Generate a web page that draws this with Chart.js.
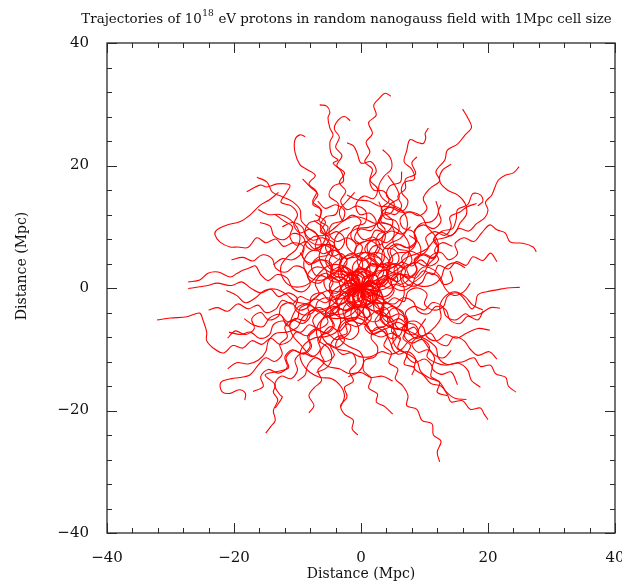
<!DOCTYPE html>
<html>
<head>
<meta charset="utf-8">
<title>Proton trajectories</title>
<script src="https://cdn.jsdelivr.net/npm/chart.js@4.4.0/dist/chart.umd.min.js"></script>
<style>
  html, body { margin: 0; padding: 0; background: #fff; }
  canvas { display: block; }
</style>
</head>
<body>
<canvas id="myChart" width="622" height="584"></canvas>
<script>
// Proton tracks in Mpc, [x, y] pairs, every one starts at the source in the origin
const track01 = [[0,0],[1.5,1],[1.2,2.8],[-0.5,3.2],[-1.6,2],[-2.8,3.2],[-2,4.8],[-0.4,5.2],[0.2,6.8],[-1,8],[-0.2,9.6],[1.6,9.4],[2.4,10.8],[1.4,12.2],[-0.2,12],[-0.8,13.6],[0.4,15],[2,14.6],[2.6,16.2],[1.4,17.6],[1.8,19.4],[0.6,20.6],[1.4,22.2],[0.8,23.8],[1.8,25.2],[1.2,27],[2.4,28.2],[2,29.8],[2.9,31],[3.8,31.8],[4.7,31.3]];
const track02 = [[0,0],[-1.6,-0.6],[-2.6,0.8],[-1.8,2.4],[-3,3.6],[-4.6,3],[-5.6,4.4],[-4.8,6],[-3.2,6.4],[-2.6,8],[-3.8,9.2],[-5.4,8.6],[-6.4,10],[-5.6,11.6],[-4,12],[-3.6,13.8],[-5,15],[-4.4,16.6],[-2.8,17.4],[-3.2,19.2],[-4.4,20.4],[-3.6,20.9],[-4.6,21.7],[-4.9,23.8],[-4.4,25],[-4.9,26.1],[-5.2,27.8],[-4.9,28.7],[-5.4,29.7],[-6.5,29.9]];
const track03 = [[0,0],[0.4,-1.7],[2,-2.2],[3,-0.8],[2.4,0.8],[3.6,2],[5.2,1.4],[5.8,3],[4.6,4.2],[3,3.8],[2,5.2],[2.6,6.8],[1.2,7.8],[-0.4,7.2],[-1.6,8.4],[-1,10],[0.6,10.6],[0.8,12.4],[-0.6,13.4],[-2.2,12.8],[-3.2,14.2],[-2.4,15.8],[-3.4,17.2],[-2.6,18.8],[-3.8,20],[-3,21.6],[-4,23],[-3.4,24.6],[-4.2,26],[-3.6,27.4],[-2.6,28],[-1.7,27.3]];
const track04 = [[0,0],[-1.7,0.4],[-2.2,-1.2],[-3.8,-1.8],[-5,-0.6],[-4.4,1],[-5.4,2.4],[-7,2],[-7.8,3.6],[-6.8,5],[-5.2,5.4],[-4.8,7],[-6,8.2],[-7.6,7.8],[-8.8,9],[-8.2,10.6],[-6.6,11.2],[-6.4,12.9],[-7.6,14.1],[-7,15.7],[-8.2,17],[-7.2,18.4],[-8.6,19.4],[-9.6,20.1],[-10.4,22.2],[-10.4,24.2],[-9.6,25],[-8.8,24.7]];
const track05 = [[0,0],[1.6,0.8],[3.2,0.2],[4.4,1.4],[4,3],[5.4,4],[6.8,3.2],[8,4.4],[7.4,6],[5.8,6.4],[5,8],[6,9.4],[5.4,11],[3.8,11.4],[3.2,13],[4.4,14.2],[3.6,15.8],[2,16],[1.4,17.6],[2.4,19],[1.6,20.6],[0,20.4],[-0.6,22],[-1.2,23.2],[-2.2,23.7]];
const track06 = [[0,0],[1.2,1.2],[0.6,2.8],[1.8,4],[3.4,3.4],[4.6,4.6],[4.2,6.2],[5.6,7.2],[7.2,6.6],[8.6,7.6],[8.2,9.2],[6.6,9.8],[6.2,11.4],[7.6,12.4],[9.2,11.8],[10.4,13],[9.8,14.6],[10.8,16.2],[12.4,17.5],[11.8,19],[13.2,20.9],[13.6,22.5],[15.2,23.5],[16.4,25],[17.4,26.2],[16.8,27.8],[16,29.2]];
const track07 = [[0,0],[-0.8,1.5],[0.4,2.8],[2,2.2],[3.4,3.2],[3,4.8],[1.4,5.4],[1,7],[2.4,8],[4,7.4],[5.2,8.6],[4.8,10.2],[3.2,10.8],[3.4,12.5],[5,13.2],[6.6,12.6],[7.4,14.2],[6.4,15.6],[6.8,17.2],[8.4,17.8],[8,19.4],[6.8,20.6],[7.2,22.4],[7.7,24.2],[8.8,23.8],[9.8,23.6],[10.2,24.5],[10.1,25.2],[10.6,26.1]];
const track08 = [[0,0],[1.7,0.2],[2.4,-1.4],[4,-1.8],[5.2,-0.6],[4.8,1],[6,2.2],[7.6,1.6],[8.8,2.8],[8.4,4.4],[9.8,5.4],[11.4,4.8],[12.2,6.4],[11.4,7.9],[12.6,9.1],[14.2,8.5],[15.4,9.7],[17,9.3],[18.2,10.5],[19.5,11.5],[20,12.7],[19.6,14],[20.6,15.2],[21.6,17.6],[22.7,18.4],[24,18.8],[24.9,19.8]];
const track09 = [[0,0],[1.2,-1.2],[2.8,-0.6],[3.2,1],[4.8,1.6],[6.2,0.6],[7.6,1.6],[7.2,3.2],[8.6,4.2],[10.2,3.6],[11,5.2],[12.6,5.8],[13.8,4.6],[15.2,5.6],[14.8,7.2],[16.2,8.2],[17.8,7.6],[19,9],[20.3,10.3],[21.4,9.5],[22.7,9],[23.5,7.5],[25.5,7.3],[27.1,6.7],[27.6,5.9]];
const track10 = [[0,0],[1.4,1],[2.8,0],[2.4,-1.6],[3.8,-2.6],[5.2,-1.6],[6.8,-2.2],[7.4,-0.6],[9,0],[10.4,-1],[10,-2.6],[11.4,-3.6],[13,-3],[13.6,-1.4],[15.2,-0.8],[16.4,-2],[17.4,-3.4],[18,-2.8],[18.4,-1.1],[19.8,-0.6],[21.4,-0.3],[23,0],[25,0.1]];
const track11 = [[0,0],[0.4,-1.7],[-1,-2.6],[-0.6,-4.2],[1,-4.8],[2.4,-3.8],[4,-4.4],[4.4,-6],[6,-6.6],[7.4,-5.6],[7,-4],[8.4,-3],[10,-3.6],[11.2,-2.4],[12.8,-3],[13.4,-4.6],[15,-5.2],[16.4,-4.2],[17.2,-4.6],[18.8,-4.2],[20.4,-3.2],[21.9,-3.3]];
const track12 = [[0,0],[-1.2,-1.2],[-0.6,-2.8],[1,-3.4],[1.6,-5],[0.6,-6.4],[1.8,-7.6],[3.4,-7],[4.6,-8.2],[6.2,-7.6],[6.8,-6],[8.4,-5.4],[9.8,-6.4],[10.4,-8],[12,-8.6],[13.4,-7.6],[15,-8.2],[16.6,-7.4],[18.4,-6.6],[20.3,-6.9]];
const track13 = [[0,0],[1.6,-0.6],[2,-2.2],[3.6,-2.8],[3.2,-4.4],[4.4,-5.6],[6,-5],[7.2,-6.2],[6.8,-7.8],[8,-9],[9.6,-8.4],[10.8,-9.6],[10.4,-11.2],[11.8,-12.2],[13.4,-12.6],[15,-12.2],[16.2,-12],[17.8,-11.4],[18.8,-12.8],[20.4,-12.6],[21.2,-14],[22.8,-14.6],[23.2,-16],[24.4,-17]];
const track14 = [[0,0],[-0.6,-1.6],[0.6,-2.8],[2.2,-2.4],[3,-3.9],[2.2,-5.4],[3.2,-6.8],[4.8,-6.4],[5.6,-7.9],[4.8,-9.4],[5.8,-10.8],[7.4,-10.4],[8.6,-11.6],[8.4,-13.2],[9.8,-14.2],[11,-15.6],[12.6,-16],[13.6,-17.4],[14.2,-18.6],[16,-18.4],[17.2,-19.8],[18.8,-19.6],[19.4,-20.6],[20,-21.5]];
const track15 = [[0,0],[-1.6,-0.4],[-2.2,-2],[-1,-3.2],[0.6,-2.8],[1.4,-4.2],[0.6,-5.8],[1.8,-7],[3.4,-6.4],[4.2,-7.8],[3.6,-9.4],[4.8,-10.6],[4.4,-12.2],[5.8,-13.2],[5.4,-14.8],[6.6,-16],[7.4,-17.6],[7.2,-19.2],[8.8,-19.8],[9.6,-21.6],[11.2,-22.2],[11.4,-24],[12.6,-25],[12,-26.8],[12.4,-28.4]];
const track16 = [[0,0],[1.4,-1],[1.2,-2.7],[-0.4,-3.2],[-1.6,-2.2],[-2.8,-3.4],[-2.4,-5],[-0.8,-5.6],[-0.4,-7.2],[-1.6,-8.4],[-3.2,-8],[-4,-9.4],[-3,-10.8],[-1.4,-10.6],[-0.8,-12.2],[-1.8,-13.6],[-1.2,-15.2],[-2.6,-16.2],[-2.2,-17.8],[-3.2,-19.2],[-2.6,-20.6],[-1.2,-21.6],[-1.4,-23],[-0.5,-24]];
const track17 = [[0,0],[-1.2,-1.2],[-0.8,-2.8],[-2.2,-3.8],[-3.8,-3.2],[-4.8,-4.6],[-4.2,-6.2],[-5.4,-7.4],[-7,-6.8],[-8.2,-8],[-7.8,-9.6],[-9,-10.8],[-10.6,-10.2],[-11.8,-11.4],[-11.4,-13],[-13,-13.6],[-15.1,-14.2],[-13.5,-15.8],[-13.8,-17],[-13.1,-18.3],[-13.8,-20],[-13.5,-21.6],[-14.2,-22.6],[-15,-23.7]];
const track18 = [[0,0],[-1.7,-0.2],[-2.4,1.4],[-4,1.8],[-5,0.4],[-4.4,-1.2],[-5.6,-2.4],[-7.2,-1.8],[-8.4,-3],[-8,-4.6],[-9.2,-5.8],[-10.8,-5.2],[-12,-6.4],[-11.6,-8],[-12.8,-9.2],[-12.4,-10.8],[-13.6,-12],[-15,-11.4],[-16.2,-12.6],[-17.5,-14.2],[-19,-14.6],[-20.4,-14.8],[-21.8,-15.2],[-22.2,-15.8],[-21.8,-17],[-20.6,-17.2],[-19.2,-16.6],[-18.2,-17.2],[-18.3,-18.3]];
const track19 = [[0,0],[0.6,-1.6],[-0.4,-3],[-2,-3.4],[-2.6,-5],[-1.6,-6.4],[-2.4,-7.9],[-4,-8.4],[-5.4,-7.4],[-6.8,-8.4],[-6.4,-10],[-7.6,-11.2],[-9.2,-10.6],[-10.4,-11.8],[-10,-13.4],[-11,-14.8],[-12.6,-14.4],[-13.6,-15.8],[-12.8,-17.4],[-12.4,-17.8],[-13.5,-19.6]];
const track20 = [[0,0],[-1.2,-1.2],[-2.8,-0.6],[-4,-1.8],[-3.6,-3.4],[-4.8,-4.6],[-6.4,-4],[-7.6,-5.2],[-7.2,-6.8],[-8.6,-7.8],[-10.2,-7.2],[-11.2,-8.6],[-12.8,-9.2],[-14.2,-8.2],[-15.6,-9.2],[-17.2,-8.6],[-18.6,-9.8],[-20.2,-9.4],[-21.6,-10.6],[-23,-10],[-24.3,-8.6],[-24.3,-7.2],[-24.9,-5.2],[-25.4,-4.1],[-27.4,-4.7],[-30,-4.9],[-32.1,-5.2]];
const track21 = [[0,0],[-0.6,1.6],[-2.2,2.2],[-3.4,1],[-5,1.4],[-5.6,3],[-7.2,3.4],[-8.4,2.2],[-8,0.6],[-9.2,-0.6],[-10.8,0],[-11.6,1.6],[-13.2,2.2],[-14.6,1.2],[-15.8,2.2],[-16.6,3.6],[-17.5,3.3],[-18.6,2.9],[-19.5,2.4],[-20.6,1.8],[-22.5,2.6],[-24.1,2.4],[-25.4,1.3],[-27.2,1]];
const track22 = [[0,0],[-1.7,-0.4],[-2.2,-2],[-3.8,-2.6],[-5.2,-1.6],[-6.8,-2.2],[-7.4,-3.8],[-9,-4.4],[-10.4,-3.4],[-10,-1.8],[-11.4,-0.8],[-13,-1.4],[-14.2,-0.2],[-15.8,-0.8],[-17.4,0],[-18.8,1],[-20.4,0.4],[-22.7,0.8],[-23.8,0.5],[-25.4,0.2],[-27.2,-0.1]];
const track23 = [[0,0],[-0.4,1.7],[-2,2.2],[-3.4,1.2],[-4.8,2.2],[-4.6,3.9],[-6.2,4.6],[-7.8,4],[-9.2,5],[-9,6.7],[-10.6,7.4],[-12.2,6.8],[-13.4,8],[-15,7.4],[-16.4,8.2],[-17.8,6.6],[-19.4,6.7],[-20.6,6.7],[-22.2,7.5],[-23,8.7],[-22.7,9.5],[-21.1,10.3],[-19.1,10.8],[-17.5,11.9],[-15.9,13.5],[-14.4,14.4],[-13,15.6]];
const track24 = [[0,0],[0.6,1.6],[-0.6,2.8],[-2.2,2.4],[-3.4,3.6],[-3,5.2],[-4.4,6.2],[-6,5.6],[-7.2,6.8],[-6.8,8.4],[-8,9.6],[-9.6,9],[-10.6,10.4],[-10,12],[-11,13.4],[-12.6,14],[-11.8,15.5],[-11.2,16.8],[-13.2,17],[-14.8,16.5],[-15.9,16.8],[-18,15.7]];
const track25 = [[0,0],[-1.6,0.8],[-1.2,2.4],[-2.6,3.4],[-4.2,2.8],[-5,4.4],[-4.4,6],[-5.8,7],[-7.4,6.4],[-8.6,7.6],[-10.2,7],[-11.2,8.4],[-10.8,10],[-12.2,11],[-13.5,12]];
const track26 = [[0,0],[1.7,0.4],[2.6,-1],[2,-2.6],[3.4,-3.6],[5,-3],[6,-4.4],[5.4,-6],[6.8,-7],[8.4,-6.4],[9.4,-7.8],[11,-7.4],[12,-8.8],[13.6,-9.4],[14.6,-8],[16.2,-8.6],[17.2,-10],[18.4,-11],[20.2,-10.4],[21.4,-11.6]];
const track27 = [[0,0],[1.6,-0.8],[3,0.2],[2.6,1.8],[3.8,3],[5.4,2.4],[6.8,3.4],[6.4,5],[7.8,6],[9.4,5.4],[10.6,6.6],[10.2,8.2],[11.6,9.2],[13.2,8.6],[14.2,10],[14,11.6],[15.6,12.4],[16.6,13.2],[18.2,13.8]];
const track28 = [[0,0],[-1.2,1.2],[-0.6,2.8],[1,3.2],[1.6,4.8],[0.6,6.2],[1.4,7.7],[3,8],[3.8,9.5],[2.8,10.9],[3.8,12.3],[5.4,12],[6.4,13.4],[5.8,15],[7,16.2],[7,17.8],[8.6,18.6],[8,20.4],[8.8,21.4]];
const track29 = [[0,0],[1.6,0.6],[2.2,-0.9],[3.8,-1.4],[5,-0.2],[4.6,1.4],[6,2.4],[7.6,1.8],[8.8,3],[8.4,4.6],[9.8,5.6],[11.4,5],[12.2,6.5],[11.6,8.1],[12.8,9.3],[14.4,9.7],[15,11.3],[15.2,12.8],[16.8,13.6],[17.6,15.4],[18.8,15.2],[19.2,14.2],[18.4,13.4]];
const track30 = [[0,0],[-1.2,-1.2],[-1,-2.9],[-2.6,-3.6],[-4.2,-3],[-5.6,-4],[-5.2,-5.6],[-6.6,-6.6],[-8.2,-6],[-9.4,-7.2],[-11,-6.6],[-12.2,-5.4],[-13.8,-6],[-14.4,-7.6],[-16,-8.2],[-17.4,-7.2],[-19,-7.6],[-20.8,-7.2]];
const track31 = [[0,0],[-1.6,0.6],[-2,2.2],[-3.6,2.8],[-4.8,1.6],[-6.4,2],[-7.2,0.6],[-6.6,-1],[-8,-2],[-9.6,-1.4],[-10.8,-2.6],[-12.4,-2],[-13.4,-3.4],[-15,-4],[-16.2,-2.8],[-17.8,-3.4],[-19.4,-2.6],[-21,-3.8],[-22.6,-3.2],[-24,-3.6]];
const track32 = [[0,0],[-1.4,-1],[-3,-0.4],[-3.6,1.2],[-5.2,1.8],[-6.6,0.8],[-8.2,1.4],[-8.8,3],[-10.4,3.6],[-11.8,2.6],[-13.4,3.2],[-14,4.8],[-15.6,5.4],[-17,4.4],[-18.6,5],[-20.4,4.6]];
const track33 = [[0,0],[1.2,-1.2],[0.8,-2.8],[2.2,-3.8],[3.8,-3.2],[4.6,-4.7],[3.8,-6.2],[2.2,-6.6],[1.6,-8.2],[2.6,-9.6],[2.2,-11.2],[0.6,-11.8],[0.4,-13.5],[1.6,-14.7],[1.2,-16.3],[2.6,-17.3],[2.4,-18.6],[3.8,-19.4],[5,-20.6]];
const track34 = [[0,0],[-1.6,-0.6],[-2,-2.2],[-0.6,-3.2],[-0.8,-4.9],[-2.4,-5.5],[-3.4,-7],[-2.6,-8.5],[-3.8,-9.7],[-5.4,-9.1],[-6.4,-10.5],[-5.8,-12.1],[-6.8,-13.5],[-6.2,-15.1],[-7.4,-16.3],[-8.2,-17.6],[-7.4,-19.2],[-8.2,-20.4]];
const track35 = [[0,0],[0.2,-1.7],[1.8,-2.3],[2.2,-3.9],[3.8,-4.5],[5,-3.3],[6.6,-3.9],[7,-5.5],[8.6,-6.1],[9,-7.7],[8,-9.1],[9,-10.5],[10.6,-10.1],[11.6,-11.5],[11.2,-13.1],[12.6,-14.1],[14.2,-13.7],[15.2,-15.8]];
const track36 = [[0,0],[1.2,1.2],[2.8,0.6],[4.2,1.6],[4,3.3],[5.6,3.9],[7,2.9],[6.6,1.3],[8,0.3],[9.6,0.9],[10.4,2.4],[12,2],[13,0.6],[14.4,1.2],[14,2.8]];
const track37 = [[0,0],[1.6,0.8],[1.8,2.5],[0.2,3.1],[-0.6,4.6],[0.6,5.8],[2.2,5.4],[3,6.9],[2,8.3],[0.4,7.9],[-0.6,9.3],[0,10.9],[-1.4,11.9],[-2.8,11],[-3.4,12.6],[-2.4,14],[-1,15.6]];
const track38 = [[0,0],[-1,1.4],[0.2,2.6],[1.8,2],[2.6,3.5],[1.6,4.9],[0,4.4],[-1,5.8],[-0.2,7.3],[1.4,7.9],[2.2,9.4],[3.4,9.2]];
const track39 = [[0,0],[1.6,-0.4],[2.2,-2],[1,-3.2],[-0.6,-2.7],[-1.6,-4.1],[-0.8,-5.6],[0.8,-6],[1.8,-7.4],[3.4,-7],[4.4,-8.4],[5,-10]];
const track40 = [[0,0],[-1.7,-0.2],[-2.6,-1.6],[-1.8,-3.1],[-0.2,-3.6],[0.6,-5.1],[-0.6,-6.3],[-2.2,-5.9],[-3.4,-7.1],[-4.8,-6.3],[-6,-7.5],[-6.6,-9]];
const track41 = [[0,0],[-1.2,1.2],[-2.8,0.6],[-3.8,-0.8],[-5.4,-0.3],[-5.8,1.3],[-4.6,2.5],[-5.2,4.1],[-6.8,4.6],[-8.2,3.8],[-9.6,5.8]];
const track42 = [[0,0],[1.7,-0.2],[2.8,1.1],[2.2,2.7],[3.4,3.9],[5,3.4],[6,4.8],[5.2,6.3],[3.6,6.6],[3.4,8.3],[4.8,9.3],[6.4,8.8],[7.8,10]];
const track43 = [[0,0],[0.8,-1.5],[2.4,-1],[3.6,-2.2],[3,-3.8],[4.4,-4.8],[6,-4.2],[7.2,-5.4],[6.8,-7],[8.4,-7.6],[9.4,-6.2],[10.2,-5]];
const track44 = [[0,0],[-0.8,1.5],[-2.4,1.2],[-3.2,2.7],[-2.2,4.1],[-3,5.6],[-4.6,5.2],[-5.6,6.6],[-5,8.2],[-6.4,9.2],[-5.6,10.8],[-7.2,12]];
const track45 = [[0,0],[-1,-1.4],[-2.6,-0.8],[-3.8,-2],[-3.4,-3.6],[-5,-4.2],[-6.4,-3.2],[-8,-3.8],[-8.8,-5.3],[-10.4,-5],[-11.6,-6.2],[-12.4,-4.6]];
const track46 = [[0,0],[1.2,1.2],[0.8,2.9],[2.2,3.9],[3.8,3.3],[5,4.5],[4.6,6.1],[6,7.1],[7.6,6.5],[8.8,7.7],[8.4,9.3],[9.8,10.3],[11.4,9.7],[12.6,10.9],[12.2,12.5],[12.6,13.6]];
const track47 = [[0,0],[0.2,1.7],[-1.3,2.5],[-1,4.2],[0.6,4.8],[1.8,3.6],[3.4,4.2],[3.6,5.9],[2.4,7.1],[2.8,8.8],[4.4,9.4],[5,11],[3.8,12.2],[4.6,13.7],[6,14.7],[5.6,16.3],[4.2,18.4]];
const track48 = [[0,0],[-1.5,0.8],[-1.2,2.5],[0.2,3.4],[-0.2,5.1],[-1.8,5.6],[-3.2,4.6],[-4.6,5.6],[-4.2,7.3],[-5.6,8.3],[-5.2,10],[-6.6,11],[-6.2,12.7],[-7.6,13.7],[-6.8,15.3],[-8,16.5],[-9.2,17.8]];
const track49 = [[0,0],[1.6,-0.6],[1.8,-2.3],[0.4,-3.2],[0.8,-4.9],[2.4,-5.5],[3.8,-4.5],[5.2,-5.5],[4.8,-7.1],[6.2,-8.1],[5.8,-9.8],[7.2,-10.8],[6.8,-12.4],[8.4,-13],[8,-14.2]];
const track50 = [[0,0],[-1.6,-0.8],[-1.6,-2.5],[-0.2,-3.5],[-0.8,-5.1],[-2.4,-5.7],[-2.2,-7.4],[-3.8,-8],[-4.8,-9.4],[-4.2,-11],[-5.6,-12],[-7.2,-11.4],[-8.4,-12.6],[-8.8,-14.2],[-10,-15.2]];
const track51 = [[0,0],[0.8,1.5],[2.4,2],[3.2,0.6],[4.8,0],[5.8,1.4],[5.2,3],[6.4,4.2],[8,3.6],[9.4,4.6],[10.8,3.6],[12.2,4.6],[11.6,6.2],[12.8,7.4],[14.4,6.8]];
const track52 = [[0,0],[-0.4,-1.7],[1,-2.6],[2.6,-2],[3.6,-3.4],[3,-5],[4.2,-6.2],[5.8,-5.6],[7.2,-6.6],[6.6,-8.2],[7.8,-9.4],[7.2,-11],[8.4,-12.2],[10,-11.6],[11.2,-12.8],[11,-14.4],[12.4,-15.4],[12,-17],[13.6,-17.6]];
const track53 = [[0,0],[-1.5,0.8],[-3,0.2],[-3.4,-1.4],[-5,-2],[-6.2,-0.8],[-7.8,-1.4],[-8.2,-3],[-9.8,-3.6],[-11,-2.4],[-12.6,-3],[-13,-4.6],[-14.6,-5.2],[-15.8,-4],[-17.2,-5],[-16.8,-6.6],[-18.2,-7.6],[-19.8,-7],[-21,-8.2]];
const track54 = [[0,0],[0.6,1.6],[-0.8,2.6],[-2.4,2],[-3.4,3.4],[-2.8,5],[-1.2,5.6],[-0.8,7.2],[-2.2,8.2],[-3.8,7.6],[-5,8.8],[-4.6,10.4],[-3,11],[-2.6,12.6],[-4,13.6],[-5.6,13],[-6.8,14.2]];
const track55 = [[0,0],[1.5,-1],[3,-0.4],[3.6,-2],[5.2,-2.6],[6.6,-1.6],[8.2,-2.2],[9,-3.8],[10.6,-4.2],[11.8,-3],[13.4,-3.6],[14,-5.2],[15.6,-5.8],[16.8,-4.6],[18.4,-5.2],[19.2,-3.8]];
const track56 = [[0,0],[-1.4,-1],[-1,-2.7],[-2.4,-3.7],[-4,-3.1],[-5,-4.5],[-4.4,-6.1],[-5.6,-7.3],[-7.2,-6.7],[-8.4,-7.9],[-8,-9.5],[-9.2,-10.7],[-10.8,-10.1],[-12,-11.3],[-11.6,-12.9],[-13,-13.9],[-14.6,-13.3],[-15.8,-14.5],[-15.4,-16.1],[-17,-16.9]];
const track57 = [[0,0],[1.2,1.2],[2.8,0.6],[4.2,1.6],[5.8,1],[7,2.2],[8.6,1.6],[9.8,2.8],[11.4,2.2],[12.2,3.7],[13.8,3.1],[15,4.3],[16.6,3.7],[17.6,5.1],[19.2,4.5],[20.4,5.7],[21.4,4.3]];
const track58 = [[0,0],[-0.2,-1.7],[-1.8,-2.3],[-3,-1.1],[-4.6,-1.7],[-5.2,-3.3],[-6.8,-3.9],[-8,-2.7],[-9.6,-3.3],[-10,-4.9],[-11.6,-5.5],[-12.8,-4.3],[-14.4,-4.9],[-15.4,-6.3],[-17,-6],[-18.4,-5]];
const track59 = [[0,0],[0.4,1.7],[2,2.3],[2.4,3.9],[1.2,5.1],[1.8,6.7],[3.4,7.3],[3.8,8.9],[2.6,10.1],[3.2,11.7],[4.8,12.3],[5.2,13.9],[4,15.1],[4.6,16.7],[6.2,17.3],[6.4,19]];
const track60 = [[0,0],[-1.7,0],[-2.5,1.5],[-4.1,2],[-4.5,3.7],[-3.3,4.9],[-3.9,6.5],[-5.5,7.1],[-6.9,6.1],[-8.5,6.7],[-9.1,8.3],[-10.7,8.9],[-12.1,7.9],[-13.7,8.5],[-14.3,10.1],[-15.9,10.7]];
const track61 = [[0,0],[1.6,0.8],[3.2,1.8],[4.8,2.4],[6.4,3.6],[7.4,5.2],[7.6,7],[6.8,8.6],[5.4,9.8],[3.8,10.6],[2,10.6],[0.4,11.4],[-1.4,11.6],[-3,10.8],[-4.4,9.6],[-5.8,8.6],[-7.4,8.4],[-8.8,7.2],[-9.4,5.6],[-10.8,4.6],[-12.4,4.8],[-13.8,3.8]];
const track62 = [[0,0],[-1.4,-1],[-2.6,-2.4],[-4.2,-3.2],[-5.6,-4.4],[-6.4,-6],[-6.2,-7.8],[-5.2,-9.2],[-3.6,-10],[-1.8,-10.4],[-0.2,-11.2],[1.6,-11.2],[3.2,-10.4],[4.8,-10.8],[6.4,-10],[7.6,-8.6],[9.2,-8],[10.4,-9.4],[11.4,-10.8],[13,-11.4],[14.2,-10.2]];
const track63 = [[0,0],[1.8,-0.4],[3.6,-0.2],[5.2,0.6],[6.8,0.2],[8.4,1],[9.8,2.2],[10.6,3.8],[11.8,5.2],[12.2,7],[11.6,8.6],[10.4,10],[9.6,11.6],[8,12.4],[6.2,12.4],[4.6,13.2],[2.8,13.4],[1.2,14.2],[-0.6,14.4],[-2.2,15.2]];
const track64 = [[0,0],[-1.8,0.2],[-3.4,-0.6],[-5.2,-0.4],[-6.8,-1.2],[-8.2,-2.4],[-9.8,-3],[-10.8,-4.6],[-11.2,-6.4],[-10.6,-8],[-9.4,-9.4],[-8.2,-10.8],[-6.6,-11.6],[-5.2,-12.8],[-3.4,-13.2],[-1.8,-14],[0,-13.8],[1.6,-14.6],[3.4,-14.4],[5,-15.2]];
const track65 = [[0,0],[-0.6,1.7],[-0.4,3.5],[0.6,5],[2.2,5.8],[3.8,5.2],[4.6,3.6],[4,2],[4.8,0.4],[6.4,-0.4],[8,0.4],[8.6,2],[9.8,3.4],[11.4,3],[12.6,1.6],[13.2,0],[14.6,-1.2],[16.2,-0.6],[17.2,0.8]];
const track66 = [[0,0],[1,-1.5],[2.6,-2.4],[4.4,-2.6],[6,-3.6],[7.2,-5],[7.4,-6.8],[8.6,-8.2],[10.2,-7.6],[11.6,-6.4],[12.6,-4.8],[12.4,-3],[13.2,-1.4],[14.8,-0.6],[16.4,-1.4],[17.6,-2.8],[19.2,-3.6]];
const track67 = [[0,0],[-1.2,1.3],[-1.8,3],[-3.4,3.8],[-5.2,3.6],[-6.6,2.4],[-7.8,1],[-9.4,0.2],[-11.2,0.4],[-12.4,1.8],[-12.6,3.6],[-11.6,5.1],[-10.2,6.3],[-9.6,8],[-10,9.8],[-11.2,11.2],[-12.8,12],[-14.6,12],[-16.2,12.8]];
const track68 = [[0,0],[0.2,-1.8],[-0.6,-3.4],[-2,-4.6],[-3.8,-5],[-5.6,-4.6],[-7,-3.4],[-8.6,-2.6],[-10.4,-2.2],[-11.8,-1],[-13.4,-0.2],[-15.2,-0.4],[-16.6,-1.6],[-18.2,-2.4],[-19.6,-1.2],[-21.2,-0.4]];
const track69 = [[0,0],[1.4,1.2],[2.4,2.7],[4.2,3],[5.8,3.8],[7.2,5],[8.8,5.6],[10.4,6.4],[11.6,7.8],[13.2,8.2],[14.8,9],[15.6,10.6],[16.6,12],[16.4,13.8],[15.2,15.2],[13.6,16],[12.4,17.4],[12.8,19.2],[14.2,20.2]];
const track70 = [[0,0],[-1.6,-0.8],[-3,-2],[-3.6,-3.7],[-3.2,-5.4],[-3.8,-7.1],[-5.4,-7.9],[-7.2,-8.1],[-8.8,-9.1],[-9.6,-10.7],[-9.2,-12.4],[-8,-13.8],[-6.4,-14.6],[-4.6,-14.8],[-3.2,-16],[-2.6,-17.7],[-3.2,-19.4]];
const track71 = [[0,0],[0.8,1.6],[2.2,2.7],[3.2,4.2],[3.4,6],[4.6,7.3],[6.2,8.1],[7.2,9.6],[7.2,11.4],[6.2,12.9],[4.6,13.7],[3.2,14.9],[2.8,16.6],[3.6,18.2],[4.8,19.5],[4.6,21.3],[3.4,22.6]];
const track72 = [[0,0],[-1.8,-0.2],[-3.2,-1.3],[-4.4,-2.7],[-6,-3.5],[-7.8,-3.7],[-9.2,-4.8],[-10,-6.4],[-11.6,-7.2],[-13.4,-7.4],[-14.6,-8.7],[-15,-10.4],[-16.2,-11.8],[-17.8,-12.4],[-19.6,-12.2],[-21,-13.2]];
const track73 = [[0,0],[1.8,0.2],[3.2,-0.9],[3.6,-2.6],[3,-4.3],[3.8,-5.9],[5.4,-6.7],[7.2,-6.9],[8.8,-7.7],[10.4,-8.5],[11.8,-9.7],[12.2,-11.4],[13.6,-12.5],[15.4,-12.3],[16.8,-13.4],[17.4,-15.1],[18.8,-16.2]];
const track74 = [[0,0],[-1.2,1.3],[-2.8,2.2],[-4.6,2.4],[-6,3.5],[-6.6,5.2],[-6.2,6.9],[-6.8,8.6],[-8.2,9.7],[-9.4,11],[-9.6,12.8],[-10.8,14.1],[-12.4,14.9],[-14,15.7],[-14.8,17.3],[-16.4,18.1]];
const track75 = [[0,0],[0.2,-1.8],[1.2,-3.3],[2.8,-4.1],[4.4,-5],[5.2,-6.6],[5,-8.4],[5.8,-10],[7.4,-10.8],[8.8,-11.9],[9.4,-13.6],[10.8,-14.7],[12.4,-15.4],[13.4,-16.9],[14.8,-18],[16.6,-18.2]];
const track76 = [[0,0],[1.8,0.4],[3.2,1.6],[3.6,3.4],[2.8,5],[1.2,5.8],[-0.6,5.6],[-2.2,4.8],[-3.6,5.8],[-4.2,7.5],[-3.4,9.1],[-1.8,9.9]];
const track77 = [[0,0],[-1.6,0.8],[-3.2,0.4],[-4.6,-0.8],[-5,-2.6],[-4.2,-4.2],[-2.6,-5],[-0.8,-4.8],[0.8,-5.6],[1.6,-7.2],[3.2,-8],[4.8,-7.4],[6.2,-8.4]];
const track78 = [[0,0],[0.6,-1.7],[2.2,-2.6],[4,-2.4],[5.6,-3.2],[6.6,-1.8],[6.8,0],[6.2,1.7],[6.8,3.4],[8.4,4.2],[9.4,5.7],[9,7.5],[7.6,8.6]];
const track79 = [[0,0],[-0.6,1.7],[-2.2,2.6],[-4,2.6],[-5.4,1.5],[-7.2,1.3],[-8.6,2.4],[-9,4.2],[-8.2,5.8],[-6.6,6.6],[-5.6,8.1],[-6,9.9],[-7.4,11]];
const track80 = [[0,0],[1.2,1.3],[1.4,3.1],[0.6,4.7],[-1,5.5],[-2.2,6.8],[-2,8.6],[-0.6,9.7],[1.2,9.9],[2.8,10.7],[3.4,12.4],[2.8,14.1]];
const track81 = [[0,0],[-1.2,-1.3],[-1.4,-3.1],[-2.8,-4.2],[-4.6,-4.4],[-6.2,-5.2],[-7,-6.8],[-6.6,-8.6],[-5.2,-9.7],[-4.6,-11.4],[-5.4,-13],[-7,-13.8]];
const track82 = [[0,0],[1.8,-0.2],[3.4,0.6],[4.6,2],[6.4,2.2],[7.8,1.1],[9.4,0.3],[11.2,0.5],[12.6,1.6],[13.2,3.3],[14.8,4.1],[16.4,3.3]];
const track83 = [[0,0],[-1.8,0.2],[-3.2,1.3],[-3.6,3],[-3,4.7],[-3.8,6.3],[-5.4,7.1],[-7.2,7.1],[-8.6,8.2],[-9.2,9.9],[-10.8,10.7],[-12.4,10]];
const track84 = [[0,0],[0.8,-1.6],[0.4,-3.4],[-0.8,-4.8],[-2.6,-5.2],[-3.6,-6.7],[-3.2,-8.5],[-1.8,-9.6],[-0.2,-10.4],[0.4,-12.1],[-0.4,-13.7],[-2,-14.5]];
const track85 = [[0,0],[1.4,1.1],[3.2,1.3],[4.4,2.6],[4.4,4.4],[5.6,5.7],[7.4,5.9],[8.6,7.2],[8.4,9],[9.4,10.5],[11.2,10.9],[12.2,12.4],[11.8,14.2]];

const tracks = [track01, track02, track03, track04, track05, track06, track07, track08, track09, track10,
  track11, track12, track13, track14, track15, track16, track17, track18, track19, track20,
  track21, track22, track23, track24, track25, track26, track27, track28, track29, track30,
  track31, track32, track33, track34, track35, track36, track37, track38, track39, track40,
  track41, track42, track43, track44, track45, track46, track47, track48, track49, track50,
  track51, track52, track53, track54, track55, track56, track57, track58, track59, track60,
  track61, track62, track63, track64, track65, track66, track67, track68, track69, track70,
  track71, track72, track73, track74, track75, track76, track77, track78, track79, track80,
  track81, track82, track83, track84, track85];

// axis range, minor tick step and the ticks that carry a number
const axisMin = -40;
const axisMax = 40;
const tickStep = 4;
const labelledTicks = [-40, -20, 0, 20, 40];

const titleParts = ['Trajectories of 10', '18', ' eV protons in random nanogauss field with 1Mpc cell size'];
const axisTitle = 'Distance (Mpc)';

const serif = '"DejaVu Serif", "Liberation Serif", serif';

function tickLabel(value) {
    if (!labelledTicks.includes(value)) return '';
    return value < 0 ? '\u2212' + Math.abs(value) : String(value);
}

// frame with inward ticks on all four sides, plus the titles
const framePlugin = {
    id: 'frame',
    afterDraw(chart) {
        const ctx = chart.ctx;
        const a = chart.chartArea;
        const xs = chart.scales.x;
        const ys = chart.scales.y;

        ctx.save();
        ctx.strokeStyle = '#2a2a2a';
        ctx.lineWidth = 1.3;
        ctx.strokeRect(a.left, a.top, a.right - a.left, a.bottom - a.top);

        ctx.beginPath();
        xs.ticks.forEach(function (t) {
            const px = Math.round(xs.getPixelForValue(t.value)) + 0.5;
            const len = labelledTicks.includes(t.value) ? 10 : 5;
            ctx.moveTo(px, a.bottom); ctx.lineTo(px, a.bottom - len);
            ctx.moveTo(px, a.top); ctx.lineTo(px, a.top + len);
        });
        ys.ticks.forEach(function (t) {
            const py = Math.round(ys.getPixelForValue(t.value)) + 0.5;
            const len = labelledTicks.includes(t.value) ? 10 : 5;
            ctx.moveTo(a.left, py); ctx.lineTo(a.left + len, py);
            ctx.moveTo(a.right, py); ctx.lineTo(a.right - len, py);
        });
        ctx.lineWidth = 1;
        ctx.stroke();

        // main title with the superscript exponent
        ctx.fillStyle = '#111';
        ctx.textBaseline = 'alphabetic';
        ctx.font = '13.4px ' + serif;
        const w0 = ctx.measureText(titleParts[0]).width;
        const w2 = ctx.measureText(titleParts[2]).width;
        ctx.font = '9px ' + serif;
        const w1 = ctx.measureText(titleParts[1]).width;
        let tx = 346 - (w0 + w1 + w2) / 2;
        ctx.font = '13.4px ' + serif;
        ctx.fillText(titleParts[0], tx, 23);
        tx += w0;
        ctx.font = '9px ' + serif;
        ctx.fillText(titleParts[1], tx + 0.5, 16);
        tx += w1 + 1;
        ctx.font = '13.4px ' + serif;
        ctx.fillText(titleParts[2], tx, 23);

        // axis titles
        ctx.font = '14px ' + serif;
        ctx.textAlign = 'center';
        ctx.textBaseline = 'middle';
        ctx.fillText(axisTitle, (a.left + a.right) / 2, 574);
        ctx.translate(22, 266);
        ctx.rotate(-Math.PI / 2);
        ctx.fillText(axisTitle, 0, 0);
        ctx.restore();
    }
};

function createChart() {
    const ctx = document.getElementById('myChart').getContext('2d');
    const datasets = tracks.map(function (track) {
        return {
            data: track.map(function (p) { return { x: p[0], y: p[1] }; }),
            showLine: true,
            borderColor: '#ff0000',
            borderWidth: 1.1,
            pointRadius: 0,
            pointHoverRadius: 0,
            tension: 0.35,
            fill: false
        };
    });

    const tickFont = { family: serif, size: 15 };

    new Chart(ctx, {
        type: 'scatter',
        data: { datasets: datasets },
        options: {
            responsive: false,
            animation: false,
            devicePixelRatio: 1,
            layout: { padding: { top: 43, right: 7, left: 0, bottom: 0 } },
            plugins: {
                legend: { display: false },
                tooltip: { enabled: false }
            },
            scales: {
                x: {
                    type: 'linear',
                    min: axisMin,
                    max: axisMax,
                    grid: { display: false },
                    border: { display: false },
                    ticks: {
                        stepSize: tickStep,
                        autoSkip: false,
                        maxRotation: 0,
                        padding: 8,
                        color: '#111',
                        font: tickFont,
                        callback: tickLabel
                    },
                    afterFit: function (scale) {
                        scale.height = 51;
                        scale.paddingLeft = 0;
                        scale.paddingRight = 0;
                    }
                },
                y: {
                    type: 'linear',
                    min: axisMin,
                    max: axisMax,
                    grid: { display: false },
                    border: { display: false },
                    ticks: {
                        stepSize: tickStep,
                        autoSkip: false,
                        padding: 10,
                        color: '#111',
                        font: tickFont,
                        callback: tickLabel
                    },
                    afterFit: function (scale) {
                        scale.width = 107;
                        scale.paddingTop = 0;
                        scale.paddingBottom = 0;
                    }
                }
            }
        },
        plugins: [framePlugin]
    });
}

createChart();
</script>
</body>
</html>
